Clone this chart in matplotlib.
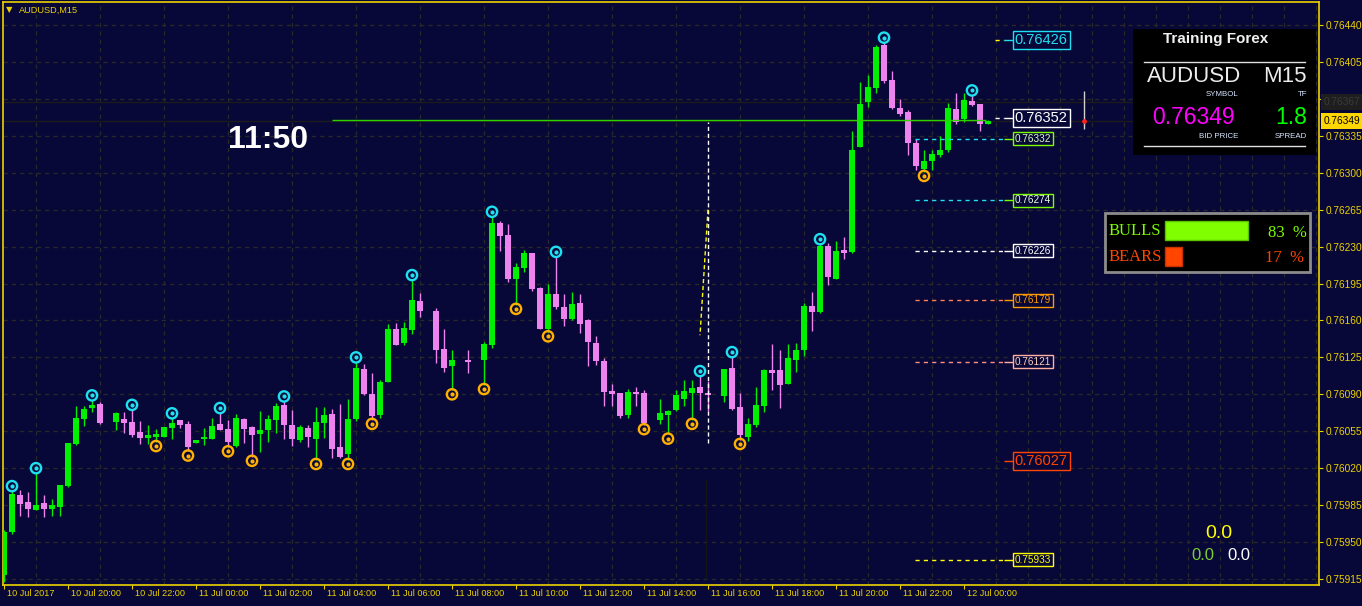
import numpy as np
import matplotlib.pyplot as plt
from matplotlib.patches import Rectangle
from matplotlib.ticker import FormatStrFormatter
import matplotlib.transforms as mtransforms

plt.rcParams['font.family'] = ['Liberation Sans', 'DejaVu Sans']

BG = '#070738'
YEL = '#ecd200'
GRID = '#282828'
BULL = '#00f000'
BEAR = '#ee82ee'
CYAN = '#1ee0f0'
ORNG = '#ffb000'

symbol = 'AUDUSD'
timeframe = 'M15'
bid = 0.76349
ask = 0.76367
spread = 1.8
timer = '11:50'

# M15 candles, 10 Jul 18:00 -> 12 Jul 00:45 (None = nothing drawn)
opens = [0.75919, 0.75960, 0.75995, 0.75988, 0.75980, 0.75987, 0.75981, 0.75983, 0.76003, 0.76043,
         0.76067, 0.76077, 0.76081, None, 0.76064, 0.76067, 0.76064, 0.76054, 0.76049, 0.76050,
         0.76050, 0.76058, 0.76066, 0.76062, 0.76044, 0.76048, 0.76048, 0.76062, 0.76057, 0.76041,
         0.76067, 0.76059, 0.76052, 0.76056, 0.76066, 0.76080, 0.76061, 0.76047, 0.76058, 0.76048,
         0.76063, 0.76071, 0.76040, 0.76033, 0.76067, 0.76114, 0.76090, 0.76070, 0.76102, 0.76152,
         0.76139, 0.76151, 0.76178, None, 0.76169, 0.76133, 0.76117, None, 0.76123, None,
         0.76123, 0.76137, 0.76252, 0.76241, 0.76199, 0.76210, 0.76224, 0.76191, 0.76152, 0.76185,
         0.76173, 0.76161, 0.76177, 0.76160, 0.76139, 0.76122, 0.76093, 0.76091, 0.76070, 0.76092,
         0.76091, None, 0.76066, 0.76070, 0.76075, 0.76086, 0.76091, 0.76097, 0.76091, None,
         0.76088, 0.76115, 0.76078, 0.76050, 0.76061, 0.76079, 0.76113, 0.76113, 0.76100, 0.76123,
         0.76132, 0.76174, 0.76168, 0.76231, 0.76199, 0.76227, 0.76225, 0.76324, 0.76367, 0.76380,
         0.76421, 0.76388, 0.76361, 0.76358, 0.76328, 0.76304, 0.76311, 0.76317, 0.76322, 0.76360,
         0.76351, 0.76368, 0.76365, 0.76346]
highs = [0.75961, 0.75999, 0.75999, 0.75997, 0.76016, 0.75995, 0.75991, 0.76004, 0.76044, 0.76079,
         0.76079, 0.76085, 0.76083, None, 0.76073, 0.76073, 0.76076, 0.76065, 0.76061, 0.76057,
         0.76059, 0.76068, 0.76066, 0.76065, 0.76047, 0.76058, 0.76068, 0.76073, 0.76066, 0.76071,
         0.76068, 0.76060, 0.76074, 0.76070, 0.76082, 0.76084, 0.76075, 0.76061, 0.76061, 0.76078,
         0.76078, 0.76076, 0.76081, 0.76086, 0.76121, 0.76119, 0.76110, 0.76104, 0.76157, 0.76158,
         0.76159, 0.76199, 0.76186, None, 0.76172, 0.76152, 0.76132, None, 0.76132, None,
         0.76140, 0.76259, 0.76254, 0.76251, 0.76214, 0.76227, 0.76224, 0.76192, 0.76195, 0.76221,
         0.76185, 0.76187, 0.76185, 0.76161, 0.76145, 0.76124, 0.76100, 0.76091, 0.76095, 0.76097,
         0.76094, None, 0.76086, 0.76075, 0.76094, 0.76104, 0.76104, 0.76108, 0.76103, None,
         0.76114, 0.76126, 0.76091, 0.76068, 0.76097, 0.76114, 0.76138, 0.76132, 0.76138, 0.76139,
         0.76177, 0.76187, 0.76233, 0.76233, 0.76235, 0.76239, 0.76340, 0.76386, 0.76393, 0.76421,
         0.76424, 0.76396, 0.76370, 0.76359, 0.76332, 0.76322, 0.76322, 0.76335, 0.76366, 0.76376,
         0.76376, 0.76374, 0.76365, 0.76350]
lows = [0.75912, 0.75958, 0.75975, 0.75974, 0.75980, 0.75974, 0.75975, 0.75975, 0.76002, 0.76042,
        0.76060, 0.76073, 0.76062, None, 0.76056, 0.76053, 0.76050, 0.76043, 0.76043, 0.76045,
        0.76050, 0.76048, 0.76058, 0.76036, 0.76044, 0.76042, 0.76048, 0.76056, 0.76040, 0.76040,
        0.76044, 0.76031, 0.76035, 0.76045, 0.76053, 0.76048, 0.76041, 0.76045, 0.76040, 0.76028,
        0.76049, 0.76030, 0.76030, 0.76028, 0.76065, 0.76089, 0.76066, 0.76068, 0.76102, 0.76137,
        0.76137, 0.76147, 0.76163, None, 0.76120, 0.76111, 0.76094, None, 0.76110, None,
        0.76099, 0.76134, 0.76226, 0.76196, 0.76175, 0.76206, 0.76188, 0.76152, 0.76149, 0.76171,
        0.76155, 0.76160, 0.76148, 0.76117, 0.76118, 0.76079, 0.76079, 0.76068, 0.76068, 0.76079,
        0.76061, None, 0.76062, 0.76052, 0.76074, 0.76079, 0.76066, 0.76075, 0.76074, None,
        0.76083, 0.76075, 0.76047, 0.76046, 0.76059, 0.76073, 0.76094, 0.76077, 0.76100, 0.76111,
        0.76126, 0.76150, 0.76167, 0.76194, 0.76199, 0.76218, 0.76224, 0.76324, 0.76362, 0.76376,
        0.76385, 0.76360, 0.76354, 0.76317, 0.76303, 0.76301, 0.76303, 0.76315, 0.76320, 0.76346,
        0.76348, 0.76363, 0.76340, 0.76346]
closes = [0.75960, 0.75996, 0.75986, 0.75981, 0.75985, 0.75981, 0.75985, 0.76004, 0.76044, 0.76068,
          0.76076, 0.76080, 0.76063, None, 0.76072, 0.76063, 0.76051, 0.76049, 0.76051, 0.76052,
          0.76059, 0.76063, 0.76061, 0.76040, 0.76047, 0.76050, 0.76060, 0.76056, 0.76045, 0.76068,
          0.76057, 0.76051, 0.76056, 0.76067, 0.76079, 0.76061, 0.76048, 0.76059, 0.76050, 0.76064,
          0.76070, 0.76038, 0.76031, 0.76067, 0.76115, 0.76090, 0.76069, 0.76102, 0.76152, 0.76137,
          0.76153, 0.76179, 0.76169, None, 0.76132, 0.76115, 0.76123, None, 0.76121, None,
          0.76138, 0.76252, 0.76240, 0.76199, 0.76211, 0.76224, 0.76190, 0.76152, 0.76185, 0.76173,
          0.76161, 0.76176, 0.76157, 0.76140, 0.76122, 0.76092, 0.76090, 0.76069, 0.76092, 0.76090,
          0.76063, None, 0.76072, 0.76074, 0.76089, 0.76093, 0.76096, 0.76091, 0.76089, None,
          0.76114, 0.76076, 0.76051, 0.76062, 0.76080, 0.76113, 0.76110, 0.76099, 0.76124, 0.76132,
          0.76174, 0.76168, 0.76231, 0.76201, 0.76226, 0.76224, 0.76322, 0.76365, 0.76381, 0.76419,
          0.76387, 0.76361, 0.76356, 0.76328, 0.76306, 0.76311, 0.76318, 0.76322, 0.76361, 0.76348,
          0.76369, 0.76364, 0.76346, 0.76349]

fractal_up = [1, 4, 11, 16, 21, 27, 35, 44, 51, 61, 69, 87, 91, 102, 110, 121]
fractal_dn = [19, 23, 28, 31, 39, 43, 46, 56, 60, 64, 68, 80, 83, 86, 92, 115]

time_labels = ['10 Jul 2017', '10 Jul 20:00', '10 Jul 22:00', '11 Jul 00:00', '11 Jul 02:00',
               '11 Jul 04:00', '11 Jul 06:00', '11 Jul 08:00', '11 Jul 10:00', '11 Jul 12:00',
               '11 Jul 14:00', '11 Jul 16:00', '11 Jul 18:00', '11 Jul 20:00', '11 Jul 22:00',
               '12 Jul 00:00']
price_ticks = np.round(0.75915 + 0.00035 * np.arange(16), 5)

levels = [0.76426, 0.76352, 0.76332, 0.76274, 0.76226, 0.76179, 0.76121, 0.76027, 0.75933]
level_box = ['#1ee0f0', '#ffffff', '#7cfc00', '#7cfc00', '#ffffff', '#ff9900', '#ffb0a0', '#ff4500', '#ffff00']
level_txt = ['#1ee0f0', '#ffffff', '#d8ffc0', '#e8ffe0', '#ffffff', '#ff9900', '#ffd0c0', '#ff4500', '#ffff00']
level_line = ['#ffff00', '#ffffff', '#1ee0f0', '#1ee0f0', '#ffffff', '#ff7f50', '#ff9080', '#202020', '#ffff00']
level_big = [True, True, False, False, False, False, False, True, False]

line_price = 0.76350
bulls_pct = 83
bears_pct = 17
counters = ['0.0', '0.0', '0.0']

o = np.array(opens, dtype=float)
h = np.array(highs, dtype=float)
l = np.array(lows, dtype=float)
c = np.array(closes, dtype=float)
idx = np.arange(len(o))

fig = plt.figure(figsize=(13.62, 6.06), dpi=100)
fig.patch.set_facecolor(BG)
ax = fig.add_axes([3 / 1362, 21 / 606, 1316 / 1362, 583 / 606])
ax.set_facecolor(BG)
ax.set_xlim(-0.125, 164.375)
ax.set_ylim(0.759093, 0.764618)

# grid
ax.set_xticks(np.arange(0, 165, 4), minor=True)
ax.set_xticks(np.arange(0, 121, 8))
ax.set_xticklabels([])
ax.set_yticks(price_ticks)
ax.yaxis.set_major_formatter(FormatStrFormatter('%.5f'))
ax.grid(which='minor', axis='x', color=GRID, ls=(0, (3, 3)), lw=1)
ax.grid(which='major', axis='y', color=GRID, ls=(0, (3, 3)), lw=1)
ax.set_axisbelow(True)
ax.yaxis.tick_right()
ax.tick_params(axis='y', colors=YEL, labelcolor=YEL, labelsize=7.3, length=3, pad=2)
ax.tick_params(axis='x', which='major', colors=YEL, length=3)
ax.tick_params(axis='x', which='minor', length=0)
for s in ax.spines.values():
    s.set_color(YEL)
    s.set_linewidth(1.2)

for i, t in zip(np.arange(0, 121, 8), time_labels):
    ax.annotate(t, xy=(i, 0), xycoords=('data', 'axes fraction'), xytext=(3, -4),
                textcoords='offset pixels', ha='left', va='top', fontsize=6.6, color=YEL,
                annotation_clip=False)

# bid / ask lines
ax.axhline(ask, color='#1c1c1c', lw=1, zorder=1)
ax.axhline(bid, color='#1c1c1c', lw=1, zorder=1)

# candles
upm = c >= o
dnm = c < o
body = np.maximum(np.abs(c - o), 0.000012)
bot = np.minimum(o, c)
ax.vlines(idx[upm], l[upm], h[upm], color=BULL, lw=1, zorder=3)
ax.vlines(idx[dnm], l[dnm], h[dnm], color=BEAR, lw=1, zorder=3)
ax.bar(idx[upm], body[upm], bottom=bot[upm], width=0.65, color=BULL, lw=0, zorder=3)
ax.bar(idx[dnm], body[dnm], bottom=bot[dnm], width=0.65, color=BEAR, lw=0, zorder=3)

# fractals
fu = np.array(fractal_up)
fd = np.array(fractal_dn)
ax.scatter(fu, h[fu] + 0.00004, s=55, facecolors='none', edgecolors=CYAN, linewidths=1.7, zorder=5)
ax.scatter(fu, h[fu] + 0.00004, s=9, c=CYAN, lw=0, zorder=5)
ax.scatter(fd, l[fd] - 0.00004, s=55, facecolors='none', edgecolors=ORNG, linewidths=1.7, zorder=5)
ax.scatter(fd, l[fd] - 0.00004, s=9, c=ORNG, lw=0, zorder=5)

# green line, vertical markers
ax.hlines(line_price, 41, 122.7, color='#2ed000', lw=1, zorder=4)
ax.vlines(88, 0.76044, 0.76348, colors='white', ls=(0, (3, 2)), lw=1, zorder=4)
ax.vlines(87.8, 0.75915, 0.76010, colors='#151515', lw=1, zorder=2)
ax.plot([88, 87], [0.76265, 0.76146], color='#ffff00', ls=(0, (3, 2)), lw=1, zorder=4)
ax.vlines(135, 0.76341, 0.76377, colors='#d0d0d0', lw=1, zorder=4)
ax.scatter([135], [bid], s=6, c='#ff2020', zorder=5)

# levels
for p, bc, tc, lc, big in zip(levels, level_box, level_txt, level_line, level_big):
    start = 123.9 if big else 113.9
    ax.hlines(p, start, 125.0, colors=lc, ls=(0, (3, 3)), lw=1, zorder=4)
    ax.hlines(p, 125.0, 126.1, colors=bc, lw=1, zorder=4)
    ax.text(126.35, p, f'{p:.5f}', ha='left', va='center', color=tc,
            fontsize=10.5 if big else 7.2, zorder=6,
            bbox=dict(boxstyle='square,pad=0.15', fc=BG, ec=bc, lw=1))

# price labels on right scale
tr = mtransforms.blended_transform_factory(ax.transAxes, ax.transData)
ax.text(1 + 5 / 1316, ask, f'{ask:.5f}', transform=tr, ha='left', va='center', fontsize=7.3,
        color='#3a3a3a', bbox=dict(boxstyle='square,pad=0.25', fc='#1e1e1e', ec='none'), clip_on=False)
ax.text(1 + 5 / 1316, bid, f'{bid:.5f}', transform=tr, ha='left', va='center', fontsize=7.3,
        color='black', bbox=dict(boxstyle='square,pad=0.25', fc='#ffd700', ec='none'), clip_on=False)

# overlay in pixel coordinates
ov = fig.add_axes([0, 0, 1, 1])
ov.set_xlim(0, 1362)
ov.set_ylim(606, 0)
ov.axis('off')
ov.patch.set_alpha(0)

ov.text(6, 10, '\u25bc', fontsize=6, color=YEL, va='center', family=['DejaVu Sans'])
ov.text(19, 10, f'{symbol},{timeframe}', fontsize=6.6, color=YEL, va='center')
ov.text(228, 140, timer, fontsize=23, fontweight='bold', color='white', va='center', ha='left')

# info panel
ov.add_patch(Rectangle((1133, 29), 183, 126, fc='black', ec='none', zorder=2))
ov.text(1216, 39, 'Training Forex', ha='center', va='center', fontsize=11, fontweight='bold',
        color='#f0f0f0', zorder=3)
ov.plot([1144, 1305], [62, 62], color='#e0e0e0', lw=1, zorder=3)
ov.plot([1144, 1305], [146, 146], color='#e0e0e0', lw=1, zorder=3)
ov.text(1147, 77, symbol, ha='left', va='center', fontsize=16, color='#ececec', zorder=3)
ov.text(1307, 77, timeframe, ha='right', va='center', fontsize=16, color='#ececec', zorder=3)
ov.text(1238, 95, 'SYMBOL', ha='right', va='center', fontsize=5.7, color='#d8e4ff', zorder=3)
ov.text(1307, 95, 'TF', ha='right', va='center', fontsize=5.7, color='#d8e4ff', zorder=3)
ov.text(1152, 117, f'{bid:.5f}', ha='left', va='center', fontsize=16.5, color='#ff00ff', zorder=3)
ov.text(1307, 117, f'{spread:.1f}', ha='right', va='center', fontsize=16.5, color='#00ff00', zorder=3)
ov.text(1238, 136, 'BID PRICE', ha='right', va='center', fontsize=5.7, color='#d8e4ff', zorder=3)
ov.text(1307, 136, 'SPREAD', ha='right', va='center', fontsize=5.7, color='#d8e4ff', zorder=3)

# bulls / bears panel
ov.add_patch(Rectangle((1105, 213), 205, 59, fc='black', ec='#8c8c8c', lw=2, zorder=2))
ov.barh([230, 256], [bulls_pct, bears_pct], left=1165, height=19,
        color=['#80ff00', '#ff4500'], edgecolor=['#5cc000', '#c83000'], lw=1, zorder=3)
ov.text(1109, 231, 'BULLS', ha='left', va='center', fontsize=12, color='#7cfc00',
        family=['Liberation Serif'], zorder=3)
ov.text(1109, 257, 'BEARS', ha='left', va='center', fontsize=12, color='#ff4500',
        family=['Liberation Serif'], zorder=3)
ov.text(1307, 233, f'{bulls_pct}  %', ha='right', va='center', fontsize=12, color='#7cfc00',
        family=['Liberation Serif'], zorder=3)
ov.text(1304, 258, f'{bears_pct}  %', ha='right', va='center', fontsize=12, color='#ff4500',
        family=['Liberation Serif'], zorder=3)

# counters
ov.text(1219, 533, counters[0], ha='center', va='center', fontsize=14, color='#ffff00')
ov.text(1203, 556, counters[1], ha='center', va='center', fontsize=12, color='#7ccd32')
ov.text(1239, 556, counters[2], ha='center', va='center', fontsize=12, color='white')

fig.savefig('out.png', dpi=100, facecolor=BG)
